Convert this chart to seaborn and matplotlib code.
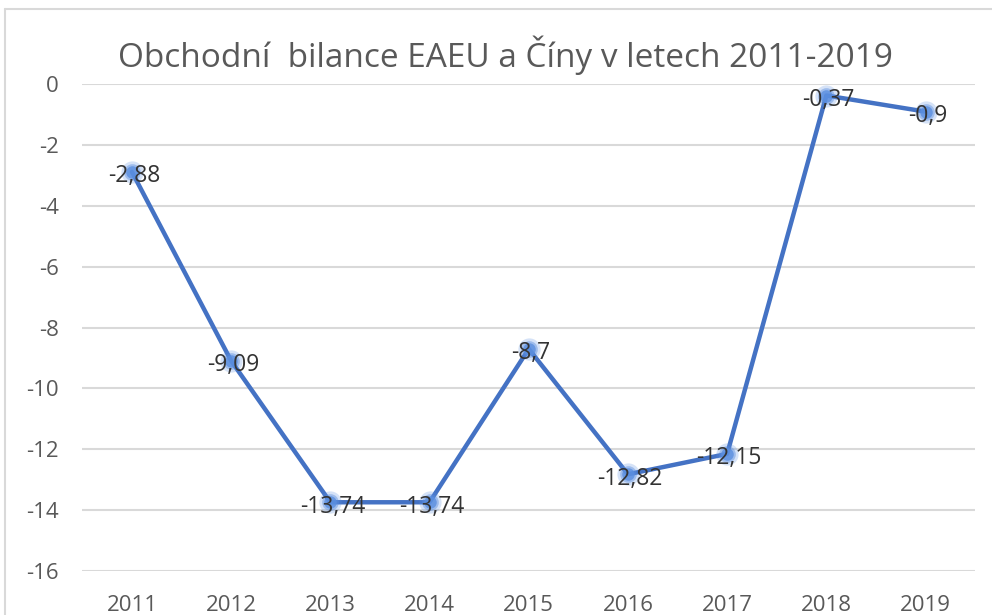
import matplotlib
matplotlib.use("Agg")
import matplotlib.pyplot as plt
import seaborn as sns
import pandas as pd
from matplotlib.lines import Line2D

years = ["2011", "2012", "2013", "2014", "2015", "2016", "2017", "2018", "2019"]
values = [-2.88, -9.09, -13.74, -13.74, -8.7, -12.82, -12.15, -0.37, -0.9]
labels = ["-2,88", "-9,09", "-13,74", "-13,74", "-8,7", "-12,82", "-12,15", "-0,37", "-0,9"]
yticks = [0, -2, -4, -6, -8, -10, -12, -14, -16]

sns.set_theme(style="white")
plt.rcParams["font.family"] = ["Open Sans", "DejaVu Sans"]

df = pd.DataFrame({"x": range(len(years)), "y": values})

fig = plt.figure(figsize=(9.92, 6.15), dpi=100)
ax = fig.add_axes([0.083, 0.0715, 0.9, 0.7915])

line_color = "#4472C4"
sns.lineplot(data=df, x="x", y="y", ax=ax, color=line_color, linewidth=3.2, zorder=3)
# glowing markers
for s, a in [(16, 0.25), (12, 0.45), (9, 0.8)]:
    ax.plot(df["x"], df["y"], linestyle="none", marker="o", markersize=s,
            color="#5B8FE0", alpha=a, markeredgewidth=0, zorder=4)

for xi, yi, lab in zip(df["x"], df["y"], labels):
    ax.text(xi + 0.02, yi - 0.14, lab, ha="center", va="center", fontsize=16.5,
            color="#333333", zorder=5)

ax.set_xlim(-0.5, len(years) - 0.5)
ax.set_ylim(-16, 0)
ax.set_yticks(yticks)
ax.set_yticklabels([str(t) for t in yticks])
ax.set_xticks(range(len(years)))
ax.set_xticklabels(years)
ax.grid(axis="y", color="#D9D9D9", linewidth=1.5)
ax.set_axisbelow(True)
for sp in ax.spines.values():
    sp.set_visible(False)
ax.tick_params(axis="both", length=0, labelsize=16, colors="#595959")
ax.tick_params(axis="y", pad=17)
ax.tick_params(axis="x", pad=17)
ax.set_xlabel("")
ax.set_ylabel("")

fig.text(0.51, 0.91, "Obchodní  bilance EAEU a Číny v letech 2011-2019",
         ha="center", va="center", fontsize=24, color="#595959")

# chart area border (top and left)
fig.add_artist(Line2D([5 / 992, 1.0], [1 - 9 / 615, 1 - 9 / 615], color="#D9D9D9", linewidth=1.5,
                      transform=fig.transFigure))
fig.add_artist(Line2D([5 / 992, 5 / 992], [0, 1 - 9 / 615], color="#D9D9D9", linewidth=1.5,
                      transform=fig.transFigure))

fig.savefig("out.png", dpi=100)
